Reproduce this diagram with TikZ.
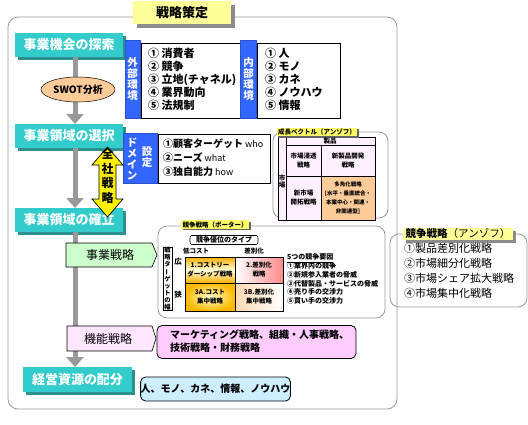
\documentclass[tikz,border=0pt]{standalone}
\usepackage{fontspec}
\setmainfont{Noto Sans CJK JP}
\usetikzlibrary{arrows.meta,shapes.geometric,shadows}
\definecolor{tealA}{HTML}{33CCCC}
\definecolor{tealB}{HTML}{2A9090}
\definecolor{blueA}{HTML}{3366FF}
\definecolor{titleY}{HTML}{FFFF99}
\definecolor{labY}{HTML}{FFFF66}
\definecolor{swotO}{HTML}{FFCC99}
\definecolor{greenA}{HTML}{CCFFCC}
\definecolor{pinkA}{HTML}{FFE6FF}
\definecolor{pinkB}{HTML}{FFCCFF}
\definecolor{lblue}{HTML}{CCEEFF}
\definecolor{lav}{HTML}{FFF0FF}
\definecolor{frameG}{HTML}{999999}
\newcommand{\fsz}[2]{\fontsize{#1}{#2}\selectfont}
\newcommand{\vbar}{\rotatebox[origin=c]{90}{ー}}
\newcommand{\lat}[1]{{\fontsize{9}{14}\selectfont #1}}
\begin{document}
\begin{tikzpicture}[x=1pt,y=-1pt,
 every node/.style={inner sep=0pt,outer sep=0pt},
 tealbox/.style={fill=tealA,text=white,font=\bfseries\fsz{13}{13},minimum width=108pt,minimum height=24pt,drop shadow={shadow xshift=3pt,shadow yshift=-3pt,fill=tealB,opacity=1}},
 bluetab/.style={fill=blueA,text=white,font=\bfseries\fsz{10.5}{11},align=center,draw=blueA!80!black,line width=0.4pt},
 listbox/.style={draw=black,line width=0.9pt,fill=white},
 listtxt/.style={font=\bfseries\fsz{11}{13},align=left,anchor=west},
 grayarrow/.style={draw=frameG,line width=5pt,-{Triangle[width=17pt,length=10pt]}},
 panel/.style={draw=frameG,line width=0.8pt,rounded corners=9pt},
 ylabel/.style={fill=labY,font=\bfseries\fsz{6.5}{7},inner xsep=1.5pt,inner ysep=1.2pt,drop shadow={shadow xshift=1.5pt,shadow yshift=-1.5pt,fill=black!60,opacity=1}},
 tinytxt/.style={font=\bfseries\fsz{6.5}{9},align=center},
 cellline/.style={draw=black,line width=0.6pt},
]
\useasboundingbox (0,0) rectangle (528,424);
\fill[white] (0,0) rectangle (528,424);

% outer frame
\draw[panel,rounded corners=10pt] (8,17) rectangle (397,409);

% title
\node[fill=titleY,minimum width=98pt,minimum height=23pt,font=\bfseries\fsz{13}{13},drop shadow={shadow xshift=4pt,shadow yshift=-4pt,fill=black!45,opacity=1}] (title) at (182,12.5) {戦略策定};

% main flow
\coordinate (ax) at (75,0);
\node[tealbox] (s1) at (69,45) {事業機会の探索};
\node[tealbox] (s2) at (69,136) {事業領域の選択};
\node[tealbox] (s3) at (69,220) {事業領域の確立};
\node[tealbox,minimum width=109pt,minimum height=25pt] (s4) at (77.5,379.5) {経営資源の配分};
\draw[grayarrow] (s1.south -| ax) -- (s2.north -| ax);
\draw[grayarrow] (s2.south -| ax) -- (s3.north -| ax);
\draw[grayarrow] (s3.south -| ax) -- (s4.north -| ax);

\node[ellipse,draw=black,line width=0.5pt,fill=swotO,minimum width=74pt,minimum height=25pt,font=\bfseries\fsz{10}{10}] (swot) at (78,89.5) {SWOT分析};

% external / internal environment
\node[bluetab,minimum width=15pt,minimum height=78pt] (ext) at (132.5,79) {外\\部\\環\\境};
\node[listbox,minimum width=99pt,minimum height=75pt] (extbox) at (190.5,80.5) {};
\node[listtxt] (extlist) at (148,79.5) {① 消費者\\② 競争\\③ 立地(チャネル)\\④ 業界動向\\⑤ 法規制};
\node[bluetab,minimum width=16pt,minimum height=78pt] (int) at (248.5,79) {内\\部\\環\\境};
\node[listbox,minimum width=83pt,minimum height=75pt] (intbox) at (298.5,80.5) {};
\node[listtxt] (intlist) at (265,79.5) {① 人\\② モノ\\③ カネ\\④ ノウハウ\\⑤ 情報};

% domain
\node[bluetab,minimum width=34pt,minimum height=50pt] (dom) at (140,158) {};
\node[font=\bfseries\fsz{10.5}{10.7},text=white,align=center] (domA) at (132,159) {ド\\メ\\イ\\ン};
\node[font=\bfseries\fsz{10.5}{10.5},text=white,align=center] (domB) at (147,157) {設\\定};
\node[listbox,minimum width=112pt,minimum height=49pt] (dombox) at (214,158.5) {};
\node[listtxt,font=\fsz{10}{14}] (domlist) at (163,158) {\textbf{①顧客ターゲット} \lat{who}\\\textbf{②ニーズ} \lat{what}\\\textbf{③独自能力} \lat{how}};

% corporate strategy double arrow
\draw[fill=yellow,draw=black,line width=0.7pt] (107.5,147) -- (123,165) -- (116,165) -- (116,199) -- (123,199) -- (107.5,217) -- (92,199) -- (99,199) -- (99,165) -- (92,165) -- cycle;
\node[font=\bfseries\fsz{12}{14.5},align=center] (zensha) at (107.5,176) {全\\社\\戦\\略};

% growth vector (Ansoff)
\draw[panel] (273,132) rectangle (388,218);
\fill[lav] (278,137) rectangle (375,220);
\fill[swotO] (321,176) rectangle (375,220);
\draw[cellline] (278,137) rectangle (375,220);
\draw[cellline] (286,137) -- (286,220);
\draw[cellline] (286,145) -- (375,145);
\draw[cellline] (321,145) -- (321,220);
\draw[cellline] (286,176) -- (375,176);
\node[ylabel] (glab) at (317,132) {成長ベクトル（アンゾフ）};
\node[tinytxt] (gh) at (330,141) {製品};
\node[tinytxt,font=\bfseries\fsz{6.5}{7}] (gs) at (282,182) {市\\場};
\node[tinytxt] (g1) at (303.5,160.5) {市場浸透\\戦略};
\node[tinytxt] (g2) at (348,160.5) {新製品開発\\戦略};
\node[tinytxt] (g3) at (303.5,198) {新市場\\開拓戦略};
\node[tinytxt,font=\bfseries\fsz{5.5}{9}] (g4) at (348,198) {多角化戦略\\{[}水平・垂直統合・\\本業中心・関連・\\非関連型{]}};

% competitive strategy (Porter)
\draw[panel] (158,226) rectangle (385,318);
\node[ylabel] (plab) at (215,224.5) {競争戦略（ポーター）};
\node[draw=black,line width=0.6pt,rounded corners=2pt,font=\bfseries\fsz{7}{7},minimum width=68pt,minimum height=9pt] (ptype) at (224,240) {競争優位のタイプ};
\node[draw=black,line width=0.6pt,minimum width=9pt,minimum height=63pt,font=\bfseries\fsz{6.3}{6.9},align=center] (pside) at (167.5,278.5) {戦\\略\\タ\\\vbar\\ゲ\\ッ\\ト\\の\\幅};
\node[tinytxt] (plow) at (196,251.5) {低コスト};
\node[tinytxt] (pdiff) at (254,251.5) {差別化};
\node[tinytxt,font=\bfseries\fsz{7.5}{7.5}] (pwide) at (178,262) {広};
\node[tinytxt,font=\bfseries\fsz{7.5}{7.5}] (pnarrow) at (178,295) {狭};
\shade[top color=orange!65!yellow,bottom color=orange!65!yellow,middle color=yellow!15] (185,257) rectangle (235,283);
\shade[left color=white,right color=red!45] (235,257) rectangle (283,283);
\shade[inner color=yellow!20,outer color=orange!55!yellow] (185,283) rectangle (235,311);
\shade[left color=orange!30,right color=white] (235,283) rectangle (283,311);
\draw[cellline] (185,257) rectangle (283,311);
\draw[cellline] (235,257) -- (235,311);
\draw[cellline] (185,283) -- (283,283);
\node[tinytxt] (p1) at (210,270) {1.コストリー\\ダーシップ戦略};
\node[tinytxt] (p2) at (259,270) {2.差別化\\戦略};
\node[tinytxt] (p3) at (210,297) {3A.コスト\\集中戦略};
\node[tinytxt] (p4) at (259,297) {3B.差別化\\集中戦略};
\node[font=\bfseries\fsz{7}{8.8},align=left,anchor=west] (pfive) at (287,279) {\underline{5つの競争要因}\\①業界内の競争\\②新規参入業者の脅威\\③代替製品・サービスの脅威\\④売り手の交渉力\\⑤買い手の交渉力};

% competitive strategy (Ansoff)
\draw[panel] (390,234) rectangle (527,307);
\node[fill=titleY,font=\fsz{10.5}{10.5},minimum width=110pt,minimum height=12pt,drop shadow={shadow xshift=3pt,shadow yshift=-3pt,fill=black!45,opacity=1}] (clab) at (458,234) {\textbf{競争戦略}（アンゾフ）};
\node[font=\fsz{11}{15},align=left,anchor=west] (clist) at (404,270.5) {①製品差別化戦略\\②市場細分化戦略\\③市場シェア拡大戦略\\④市場集中化戦略};

% business strategy
\draw[fill=greenA,line width=0.6pt] (66,243) -- (152,243) -- (157,255) -- (152,267) -- (66,267) -- cycle;
\node[font=\fsz{12}{12}] (biz) at (110,255) {事業戦略};

% functional strategy
\draw[fill=pinkA,line width=0.6pt] (67,326) -- (152,326) -- (156,338.5) -- (152,351) -- (67,351) -- cycle;
\node[font=\fsz{12}{12}] (func) at (108,339) {機能戦略};
\node[draw=black,line width=0.8pt,fill=pinkB,rounded corners=5pt,minimum width=199pt,minimum height=33pt] (funcbox) at (256.5,342) {};
\node[font=\bfseries\fsz{10}{13},align=left,anchor=west] (functxt) at (170,341.5) {マーケティング戦略、組織・人事戦略、\\技術戦略・財務戦略};

% resources
\node[draw=black,line width=0.8pt,fill=lblue,rounded corners=5pt,minimum width=149pt,minimum height=24pt,font=\bfseries\fsz{10}{10}] (resbox) at (215.5,389) {人、モノ、カネ、情報、ノウハウ};
\end{tikzpicture}
\end{document}
